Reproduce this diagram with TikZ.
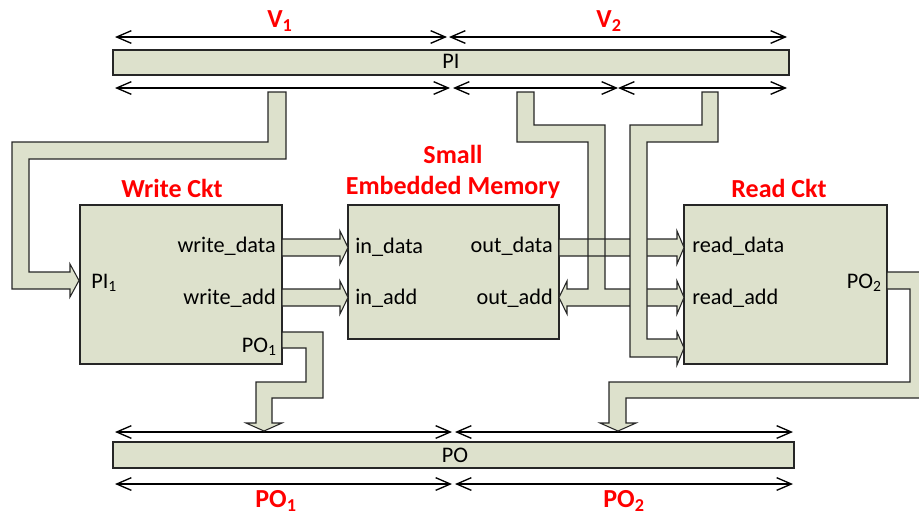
\documentclass[tikz,border=0pt]{standalone}
\usepackage{fontspec}
\setmainfont{Carlito}
\usetikzlibrary{arrows.meta,fit}
\definecolor{busfill}{RGB}{221,225,204}
\definecolor{lblred}{RGB}{255,0,0}
\tikzset{
  busshape/.style={fill=busfill, draw=black!85, line width=0.8pt, line join=miter},
  busfillonly/.style={fill=busfill, draw=none},
  busline/.style={draw=black!85, line width=0.8pt, line join=miter},
  blockbox/.style={fill=busfill, draw=black!85, line width=0.9pt, inner sep=0pt},
  dimline/.style={draw=black, line width=1pt, {Straight Barb[length=11pt,width=9.5pt,line width=1pt]}-{Straight Barb[length=11pt,width=9.5pt,line width=1pt]}},
  sig/.style={font=\fontsize{16.7}{19}\selectfont, inner sep=0pt},
  redlbl/.style={font=\fontsize{19.5}{22}\selectfont\bfseries, text=lblred, inner sep=0pt},
}
\begin{document}
\begin{tikzpicture}[x=0.75pt,y=-0.75pt]
\clip (0,0) rectangle (919,515);
\path[use as bounding box] (0,0) rectangle (919,515);

% ---- PI bar and dimension arrows ----
\node[blockbox, fit={(113,50) (789,75)}] (pibar) {};
\node[sig, anchor=base] (pitxt) at (451,68) {PI};
\coordinate (v1a) at (115,37); \coordinate (v1b) at (447,37);
\coordinate (v2a) at (449,37); \coordinate (v2b) at (787,37);
\draw[dimline] (v1a) -- (v1b);
\draw[dimline] (v2a) -- (v2b);
\coordinate (r2a) at (115,88); \coordinate (r2b) at (450,88);
\coordinate (r2c) at (453,88); \coordinate (r2d) at (618,88);
\coordinate (r2e) at (787,88);
\draw[dimline] (r2a) -- (r2b);
\draw[dimline] (r2c) -- (r2d);
\draw[dimline] (r2d) -- (r2e);
\node[redlbl, anchor=base] (v1) at (280,27) {V\textsubscript{1}};
\node[redlbl, anchor=base] (v2) at (609,27) {V\textsubscript{2}};

% ---- PO bar and dimension arrows ----
\node[blockbox, fit={(113,442) (794,468)}] (pobar) {};
\node[sig, anchor=base] (potxt) at (455,462) {PO};
\coordinate (p1a) at (115,432); \coordinate (p1b) at (452,432);
\coordinate (p1c) at (455,432); \coordinate (p1d) at (793,432);
\draw[dimline] (p1a) -- (p1b);
\draw[dimline] (p1c) -- (p1d);
\coordinate (q1a) at (115,484); \coordinate (q1b) at (452,484);
\coordinate (q1c) at (455,484); \coordinate (q1d) at (793,484);
\draw[dimline] (q1a) -- (q1b);
\draw[dimline] (q1c) -- (q1d);
\node[redlbl, anchor=base] (po1) at (276,507) {PO\textsubscript{1}};
\node[redlbl, anchor=base] (po2) at (624,507) {PO\textsubscript{2}};

% ---- blocks ----
\node[blockbox, fit={(80,205) (282,364)}] (wckt) {};
\node[blockbox, fit={(348,205) (559,339)}] (mem) {};
\node[blockbox, fit={(684,205) (887,364)}] (rckt) {};
\node[redlbl, anchor=base] (wlbl) at (172,197) {Write Ckt};
\node[redlbl, anchor=base] (mlbl1) at (453,163) {Small};
\node[redlbl, anchor=base] (mlbl2) at (453,194) {Embedded Memory};
\node[redlbl, anchor=base] (rlbl) at (779,197) {Read Ckt};

% ---- buses ----
% PI -> PI1
\path[busshape] (268,92) -- (286,92) -- (286,159) -- (29,159) -- (29,272) -- (70,272) -- (70,264) -- (79,280.5) -- (70,297) -- (70,289) -- (12,289) -- (12,142) -- (268,142) -- cycle;
% write_data -> in_data
\path[busshape] (282,239) -- (340,239) -- (340,231) -- (348,247.5) -- (340,264) -- (340,256) -- (282,256) -- cycle;
% write_add -> in_add
\path[busshape] (282,289) -- (340,289) -- (340,281) -- (348,297.5) -- (340,314) -- (340,306) -- (282,306) -- cycle;
% PO1 -> PO
\path[busshape] (282,332) -- (323,332) -- (323,398) -- (272,398) -- (272,423) -- (282,423) -- (264,431) -- (246,423) -- (256,423) -- (256,382) -- (306,382) -- (306,348) -- (282,348) -- cycle;
% address bus (fill first)
\path[busfillonly] (517,92) -- (534,92) -- (534,125) -- (605,125) -- (605,289) -- (677,289) -- (677,281) -- (684,297.5) -- (677,314) -- (677,306) -- (567,306) -- (567,314) -- (559,297.5) -- (567,281) -- (567,289) -- (588,289) -- (588,142) -- (517,142) -- cycle;
% out_data -> read_data
\path[busshape] (559,239) -- (677,239) -- (677,231) -- (684,247.5) -- (677,264) -- (677,256) -- (559,256) -- cycle;
% address bus outline
\path[busline] (517,92) -- (534,92) -- (534,125) -- (605,125) -- (605,289) -- (677,289) -- (677,281) -- (684,297.5) -- (677,314) -- (677,306) -- (567,306) -- (567,314) -- (559,297.5) -- (567,281) -- (567,289) -- (588,289) -- (588,142) -- (517,142) -- cycle;
% right bus PI -> Read Ckt
\path[busshape] (702,92) -- (718,92) -- (718,142) -- (647,142) -- (647,339) -- (677,339) -- (677,332) -- (684,348) -- (677,365) -- (677,357) -- (630,357) -- (630,125) -- (702,125) -- cycle;
% PO2 -> PO
\path[busshape] (887,272) -- (930,272) -- (930,398) -- (626,398) -- (626,423) -- (636,423) -- (618,431) -- (600,423) -- (609,423) -- (609,382) -- (910,382) -- (910,289) -- (887,289) -- cycle;

% ---- signal texts ----
\node[sig, anchor=base east] (wd) at (276,252) {write\_data};
\node[sig, anchor=base east] (wa) at (276,304) {write\_add};
\node[sig, anchor=base west] (pi1) at (91,288) {PI\textsubscript{1}};
\node[sig, anchor=base east] (po1t) at (277,352) {PO\textsubscript{1}};
\node[sig, anchor=base west] (ind) at (355,253) {in\_data};
\node[sig, anchor=base west] (ina) at (355,304) {in\_add};
\node[sig, anchor=base east] (outd) at (553,252) {out\_data};
\node[sig, anchor=base east] (outa) at (553,304) {out\_add};
\node[sig, anchor=base west] (rd) at (692,252) {read\_data};
\node[sig, anchor=base west] (ra) at (692,304) {read\_add};
\node[sig, anchor=base east] (po2t) at (882,288) {PO\textsubscript{2}};
\end{tikzpicture}
\end{document}
